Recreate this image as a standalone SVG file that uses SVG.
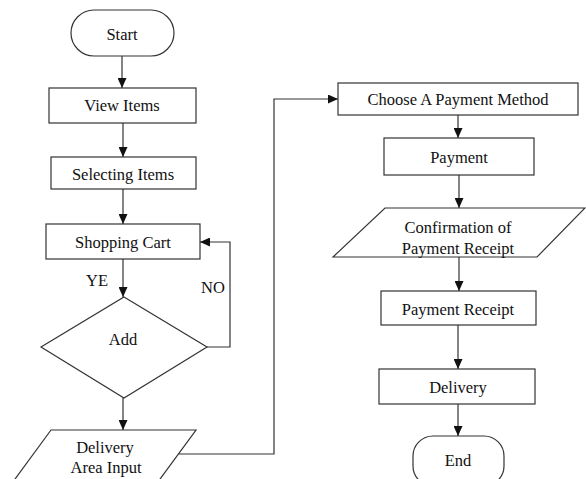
<svg xmlns="http://www.w3.org/2000/svg" width="586" height="479" viewBox="0 0 586 479">
<style>
.s{fill:#fff;stroke:#333;stroke-width:1.2}
.t{font-family:"Liberation Serif","Times New Roman",serif;font-size:16.5px;fill:#111;text-anchor:middle;dominant-baseline:central}
.c{fill:none;stroke:#333;stroke-width:1.2}
</style>
<defs>
<marker id="a" markerUnits="userSpaceOnUse" markerWidth="10" markerHeight="9" refX="10" refY="4.5" orient="auto">
<path d="M0,0 L10,4.5 L0,9 z" fill="#111"/>
</marker>
</defs>
<rect width="586" height="479" fill="#fff"/>
<g id="connectors">
<path class="c" d="M122,56 V88" marker-end="url(#a)"/>
<path class="c" d="M123,123 V157" marker-end="url(#a)"/>
<path class="c" d="M123,189 V224" marker-end="url(#a)"/>
<path class="c" d="M123,259 V297" marker-end="url(#a)"/>
<path class="c" d="M123,398 V430" marker-end="url(#a)"/>
<path class="c" d="M207,347 H230 V242 H200" marker-end="url(#a)"/>
<path class="c" d="M179,454 H274 V99 H338" marker-end="url(#a)"/>
<path class="c" d="M458,115 V138" marker-end="url(#a)"/>
<path class="c" d="M459,175 V208" marker-end="url(#a)"/>
<path class="c" d="M459,257 V291" marker-end="url(#a)"/>
<path class="c" d="M458,325 V369" marker-end="url(#a)"/>
<path class="c" d="M458,404 V436" marker-end="url(#a)"/>
<text class="t" x="97" y="280">YE</text>
<text class="t" x="213" y="287">NO</text>
</g>
<g id="start">
<rect class="s" x="71" y="10" width="103" height="46" rx="23" ry="23"/>
<text class="t" x="122" y="34">Start</text>
</g>
<g id="view-items">
<rect class="s" x="49" y="88" width="147" height="35"/>
<text class="t" x="122" y="105">View Items</text>
</g>
<g id="selecting-items">
<rect class="s" x="51" y="157" width="145" height="32"/>
<text class="t" x="123" y="174">Selecting Items</text>
</g>
<g id="shopping-cart">
<rect class="s" x="46" y="224" width="154" height="35"/>
<text class="t" x="123" y="242">Shopping Cart</text>
</g>
<g id="add">
<polygon class="s" points="124,297 207,347 124,398 41,347"/>
<text class="t" x="123" y="339">Add</text>
</g>
<g id="delivery-area-input">
<polygon class="s" points="51,430 196,430 152,490 7,490"/>
<text class="t" x="105" y="447">Delivery</text>
<text class="t" x="106" y="467">Area Input</text>
</g>
<g id="choose-payment">
<rect class="s" x="338" y="83" width="240" height="32"/>
<text class="t" x="458" y="99">Choose A Payment Method</text>
</g>
<g id="payment">
<rect class="s" x="384" y="138" width="150" height="37"/>
<text class="t" x="459" y="157">Payment</text>
</g>
<g id="confirmation">
<polygon class="s" points="385,208 585,208 537,257 333,257"/>
<text class="t" x="458" y="227">Confirmation  of</text>
<text class="t" x="458" y="248">Payment Receipt</text>
</g>
<g id="payment-receipt">
<rect class="s" x="381" y="291" width="155" height="34"/>
<text class="t" x="458" y="309">Payment Receipt</text>
</g>
<g id="delivery">
<rect class="s" x="379" y="369" width="156" height="35"/>
<text class="t" x="458" y="387">Delivery</text>
</g>
<g id="end">
<rect class="s" x="413" y="436" width="91" height="50" rx="20" ry="20"/>
<text class="t" x="458" y="460">End</text>
</g>
</svg>
